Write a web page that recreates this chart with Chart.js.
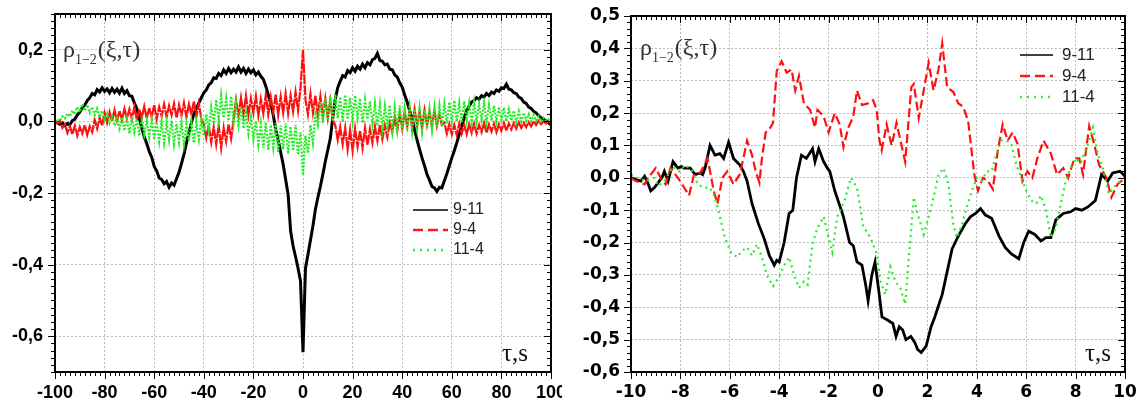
<!DOCTYPE html>
<html>
<head>
<meta charset="utf-8">
<script src="https://cdn.jsdelivr.net/npm/chart.js@4.4.1/dist/chart.umd.min.js"></script>
<style>
  html, body { margin: 0; padding: 0; background: #fff; }
  #wrap { position: relative; width: 1144px; height: 406px; overflow: hidden; }
  canvas { position: absolute; top: 0; }
  #left { left: 0; }
  #right { left: 562px; }
</style>
</head>
<body>
<div id="wrap">
  <canvas id="left" width="562" height="406"></canvas>
  <canvas id="right" width="582" height="406"></canvas>
</div>
<script>
// ---------- left panel : tau = -100 ... 100 s, one sample per second ----------
const tauLeft = Array.from({ length: 201 }, (_, i) => i - 100);

const left911 = [
  0.000, -0.004, -0.008, -0.004, -0.012, -0.006, -0.009, 0.002, 0.006, 0.018,
  0.026, 0.038, 0.046, 0.058, 0.066, 0.078, 0.074, 0.089, 0.082, 0.094,
  0.084, 0.091, 0.080, 0.092, 0.081, 0.090, 0.079, 0.093, 0.078, 0.086,
  0.072, 0.070, 0.052, 0.036, 0.008, -0.018, -0.044, -0.062, -0.084, -0.100,
  -0.126, -0.138, -0.158, -0.162, -0.174, -0.168, -0.184, -0.172, -0.178, -0.160,
  -0.142, -0.118, -0.092, -0.060, -0.032, -0.004, 0.022, 0.036, 0.052, 0.066,
  0.080, 0.088, 0.102, 0.108, 0.122, 0.120, 0.134, 0.128, 0.144, 0.134,
  0.148, 0.136, 0.146, 0.138, 0.152, 0.138, 0.148, 0.134, 0.146, 0.136,
  0.144, 0.130, 0.138, 0.126, 0.118, 0.098, 0.074, 0.050, 0.018, -0.022,
  -0.052, -0.086, -0.120, -0.162, -0.204, -0.306, -0.348, -0.378, -0.410, -0.446,
  -0.645,
  -0.410, -0.372, -0.332, -0.292, -0.246, -0.212, -0.182, -0.148, -0.112, -0.080,
  -0.048, 0.010, 0.062, 0.094, 0.112, 0.128, 0.124, 0.142, 0.136, 0.150,
  0.140, 0.154, 0.146, 0.160, 0.150, 0.164, 0.158, 0.172, 0.176, 0.190,
  0.170, 0.168, 0.158, 0.160, 0.146, 0.144, 0.130, 0.124, 0.108, 0.096,
  0.074, 0.054, 0.030, 0.008, -0.024, -0.052, -0.078, -0.102, -0.124, -0.148,
  -0.164, -0.182, -0.186, -0.196, -0.184, -0.186, -0.166, -0.146, -0.124, -0.102,
  -0.082, -0.060, -0.036, -0.012, 0.010, 0.030, 0.042, 0.054, 0.058, 0.066,
  0.062, 0.072, 0.068, 0.078, 0.072, 0.082, 0.078, 0.088, 0.084, 0.094,
  0.092, 0.104, 0.090, 0.088, 0.080, 0.078, 0.068, 0.064, 0.054, 0.050,
  0.040, 0.036, 0.028, 0.024, 0.016, 0.010, 0.006, 0.002, -0.004, -0.010
];

const left94 = [
  0.000, -0.006, 0.002, -0.018, -0.008, -0.032, -0.014, -0.036, -0.012, -0.040,
  -0.016, -0.034, -0.010, -0.038, -0.014, -0.030, 0.004, -0.020, 0.010, -0.012,
  0.024, -0.004, 0.026, 0.000, 0.032, 0.002, 0.030, 0.004, 0.036, 0.008,
  0.034, 0.006, 0.040, 0.004, 0.034, 0.010, 0.042, 0.008, 0.038, 0.012,
  0.046, 0.006, 0.040, 0.014, 0.048, 0.012, 0.044, 0.018, 0.050, 0.010,
  0.046, 0.016, 0.052, 0.012, 0.048, 0.020, 0.056, 0.014, 0.050, 0.008,
  -0.010, -0.046, -0.012, -0.058, -0.016, -0.064, -0.010, -0.074, -0.018, -0.056,
  -0.008, -0.048, 0.004, 0.060, 0.016, 0.066, 0.020, 0.072, 0.018, 0.064,
  0.024, 0.070, 0.016, 0.062, 0.022, 0.074, 0.020, 0.068, 0.026, 0.076,
  0.018, 0.070, 0.024, 0.078, 0.022, 0.072, 0.028, 0.082, 0.030, 0.094,
  0.200,
  0.060, 0.020, 0.078, 0.024, 0.072, 0.018, 0.070, 0.014, 0.064, 0.010,
  0.058, 0.004, -0.010, -0.052, -0.016, -0.064, -0.018, -0.078, -0.024, -0.082,
  -0.020, -0.070, -0.026, -0.074, -0.018, -0.066, -0.022, -0.060, -0.014, -0.054,
  -0.010, -0.050, -0.012, -0.044, -0.004, -0.030, 0.010, -0.026, 0.022, -0.020,
  0.026, -0.014, 0.030, -0.018, 0.034, -0.012, 0.028, -0.016, 0.032, -0.010,
  0.026, -0.014, 0.030, -0.012, 0.020, -0.010, -0.004, -0.034, -0.008, -0.036,
  -0.010, -0.038, -0.006, -0.034, -0.010, -0.036, -0.008, -0.032, -0.006, -0.034,
  -0.010, -0.030, -0.004, -0.032, -0.008, -0.028, -0.006, -0.030, -0.008, -0.026,
  -0.004, -0.026, -0.006, -0.022, -0.004, -0.020, -0.002, -0.018, -0.004, -0.016,
  -0.002, -0.014, 0.000, -0.010, 0.002, -0.008, 0.000, -0.006, 0.000, -0.002
];

const left114 = [
  0.000, 0.006, 0.002, 0.014, 0.008, 0.022, 0.014, 0.030, 0.020, 0.040,
  0.026, 0.048, 0.030, 0.046, 0.024, 0.040, 0.018, 0.036, 0.012, 0.030,
  0.004, 0.022, -0.004, 0.014, -0.012, 0.010, -0.020, 0.012, -0.026, 0.008,
  -0.034, 0.014, -0.030, 0.006, -0.040, 0.010, -0.036, 0.002, -0.044, 0.004,
  -0.050, -0.002, -0.056, 0.000, -0.060, -0.004, -0.052, 0.002, -0.062, -0.006,
  -0.058, -0.002, -0.064, -0.008, -0.054, 0.000, -0.060, -0.004, -0.050, 0.006,
  -0.040, 0.020, -0.024, 0.040, -0.006, 0.060, 0.004, 0.072, 0.010, 0.064,
  0.002, 0.070, -0.004, 0.052, -0.010, 0.040, -0.020, 0.024, -0.034, 0.012,
  -0.050, 0.000, -0.064, -0.006, -0.074, -0.002, -0.080, -0.010, -0.072, -0.004,
  -0.086, -0.012, -0.078, -0.006, -0.090, -0.014, -0.082, -0.010, -0.094, -0.030,
  -0.150,
  -0.040, -0.088, -0.010, -0.060, 0.020, -0.010, 0.052, -0.004, 0.064, 0.004,
  0.070, 0.000, 0.076, 0.008, 0.068, -0.002, 0.074, 0.006, 0.066, 0.002,
  0.072, 0.010, 0.064, -0.004, 0.060, 0.006, 0.056, -0.008, 0.050, -0.012,
  0.048, -0.020, 0.042, -0.016, 0.046, -0.026, 0.040, -0.022, 0.044, -0.030,
  0.036, -0.024, 0.040, -0.028, 0.034, -0.020, 0.038, -0.030, 0.032, -0.018,
  0.036, -0.024, 0.040, -0.016, 0.044, -0.012, 0.048, -0.006, 0.054, -0.002,
  0.058, 0.000, 0.052, -0.004, 0.056, 0.002, 0.050, -0.006, 0.054, 0.000,
  0.048, 0.004, 0.052, -0.002, 0.046, 0.002, 0.044, 0.000, 0.040, 0.004,
  0.038, 0.000, 0.034, 0.002, 0.030, -0.002, 0.028, 0.000, 0.024, 0.002,
  0.020, 0.000, 0.018, 0.002, 0.014, 0.000, 0.010, 0.002, 0.006, 0.000
];

const xTicksLeft = [-100, -80, -60, -40, -20, 0, 20, 40, 60, 80, 100];
const yTicksLeft = [-0.6, -0.4, -0.2, 0, 0.2];

// ---------- right panel : tau = -10 ... 10 s ----------
const tauR911 = [
  -10, -9.8, -9.6, -9.45, -9.3, -9.2, -9.05, -8.9, -8.75, -8.65, -8.5, -8.3, -8.1, -7.95, -7.85,
  -7.6, -7.4, -7.2, -7.1, -7.0, -6.8, -6.6, -6.4, -6.25, -6.05, -5.85, -5.6, -5.45, -5.3, -5.1,
  -4.85, -4.6, -4.4, -4.2, -4.1, -4.0, -3.8, -3.6, -3.45, -3.3, -3.1, -2.9, -2.65, -2.55, -2.4,
  -2.2, -2.05, -1.95, -1.75, -1.4, -1.15, -1.0, -0.85, -0.65, -0.5, -0.4, -0.25, -0.12, 0.05, 0.16,
  0.4, 0.6, 0.73, 0.86, 1.0, 1.13, 1.33, 1.5, 1.6, 1.75, 1.95, 2.15, 2.3, 2.6, 2.8,
  3.0, 3.25, 3.55, 3.75, 3.95, 4.15, 4.35, 4.6, 4.9, 5.15, 5.4, 5.7, 5.9, 6.1, 6.35,
  6.6, 6.8, 7.0, 7.2, 7.5, 7.8, 8.0, 8.25, 8.5, 8.8, 9.05, 9.3, 9.5, 9.8, 10
];
const r911 = [
  0.0, -0.005, -0.01, 0.005, -0.02, -0.04, -0.03, -0.015, 0.0, 0.02, -0.01, 0.05, 0.03, 0.035, 0.03,
  0.03, 0.01, 0.015, 0.01, 0.03, 0.1, 0.07, 0.075, 0.06, 0.11, 0.06, 0.04, 0.02, -0.01, -0.08,
  -0.14, -0.19, -0.24, -0.27, -0.255, -0.26, -0.2, -0.11, -0.1, 0.0, 0.07, 0.06, 0.09, 0.05, 0.09,
  0.05, 0.03, 0.02, -0.04, -0.12, -0.2, -0.21, -0.26, -0.27, -0.33, -0.38, -0.3, -0.26, -0.36, -0.43,
  -0.44, -0.45, -0.49, -0.46, -0.47, -0.5, -0.49, -0.51, -0.53, -0.54, -0.52, -0.46, -0.43, -0.36, -0.29,
  -0.22, -0.18, -0.14, -0.12, -0.11, -0.095, -0.115, -0.125, -0.18, -0.215, -0.235, -0.25, -0.2, -0.165, -0.175,
  -0.195, -0.185, -0.185, -0.13, -0.11, -0.105, -0.095, -0.1, -0.09, -0.07, 0.01, -0.01, 0.015, 0.02, 0.005
];

const tauR94 = [
  -10, -9.8, -9.6, -9.45, -9.25, -9.0, -8.8, -8.6, -8.4, -8.1, -7.85, -7.65, -7.45, -7.2, -6.9,
  -6.65, -6.5, -6.3, -6.1, -5.85, -5.6, -5.45, -5.3, -5.1, -4.95, -4.8, -4.7, -4.55, -4.4, -4.25,
  -4.1, -3.9, -3.7, -3.5, -3.35, -3.2, -3.0, -2.75, -2.55, -2.45, -2.2, -2.0, -1.75, -1.55, -1.4,
  -1.2, -1.0, -0.85, -0.65, -0.4, -0.2, -0.05, 0.05, 0.15, 0.35, 0.55, 0.75, 1.1, 1.35, 1.45,
  1.65, 1.85, 2.05, 2.25, 2.45, 2.6, 2.8, 3.05, 3.25, 3.45, 3.65, 3.9, 4.05, 4.25, 4.45,
  4.65, 4.85, 5.05, 5.25, 5.45, 5.65, 5.85, 6.05, 6.25, 6.45, 6.7, 7.0, 7.25, 7.5, 7.7,
  7.95, 8.15, 8.3, 8.55, 8.75, 8.95, 9.25, 9.45, 9.7, 10
];
const r94 = [
  0.0, -0.01, -0.015, -0.02, 0.005, 0.03, 0.0, -0.02, 0.03, 0.0, -0.03, -0.055, 0.01, 0.015, 0.06,
  -0.04, -0.08, 0.0, 0.02, -0.02, 0.01, 0.06, 0.115, 0.07, 0.02, -0.015, 0.06, 0.14, 0.15, 0.17,
  0.33, 0.36, 0.325, 0.335, 0.27, 0.315, 0.23, 0.21, 0.155, 0.21, 0.19, 0.14, 0.2, 0.165, 0.095,
  0.155, 0.19, 0.27, 0.225, 0.23, 0.24, 0.21, 0.12, 0.085, 0.165, 0.1, 0.17, 0.05, 0.28, 0.29,
  0.185, 0.27, 0.355, 0.27, 0.335, 0.415, 0.28, 0.265, 0.23, 0.22, 0.175, 0.01, -0.04, 0.0, -0.01,
  -0.035, 0.085, 0.165, 0.115, 0.14, 0.105, -0.01, 0.02, 0.0, 0.06, 0.115, 0.075, 0.01, 0.03, 0.0,
  0.06, 0.06, 0.01, 0.16, 0.105, 0.04, 0.0, -0.06, -0.02, 0.0
];

const tauR114 = [
  -10, -9.75, -9.4, -9.05, -8.9, -8.65, -8.3, -8.05, -7.8, -7.5, -7.3, -7.05, -6.8, -6.6, -6.4,
  -6.2, -5.95, -5.7, -5.5, -5.3, -5.1, -4.9, -4.7, -4.5, -4.25, -4.0, -3.8, -3.6, -3.4, -3.2,
  -3.0, -2.85, -2.65, -2.45, -2.2, -2.0, -1.85, -1.65, -1.35, -1.1, -0.85, -0.6, -0.3, -0.05, 0.1,
  0.3, 0.5, 0.7, 0.9, 1.1, 1.25, 1.45, 1.6, 1.85, 2.05, 2.25, 2.45, 2.65, 2.85, 3.05,
  3.2, 3.4, 3.6, 3.8, 4.0, 4.2, 4.4, 4.6, 4.8, 5.0, 5.2, 5.4, 5.6, 5.8, 6.0,
  6.2, 6.4, 6.6, 6.8, 7.0, 7.2, 7.4, 7.6, 7.8, 8.0, 8.2, 8.5, 8.7, 8.9, 9.1,
  9.35, 9.65, 10
];
const r114 = [
  0.01, 0.0, -0.01, 0.0, -0.025, -0.01, 0.035, 0.02, 0.04, 0.02, -0.02, -0.03, -0.03, -0.06, -0.12,
  -0.185, -0.23, -0.245, -0.225, -0.215, -0.24, -0.205, -0.245, -0.3, -0.335, -0.305, -0.27, -0.245, -0.3, -0.34,
  -0.32, -0.33, -0.205, -0.155, -0.12, -0.185, -0.23, -0.12, -0.07, 0.0, -0.03, -0.15, -0.185, -0.235, -0.32,
  -0.36, -0.275, -0.32, -0.34, -0.39, -0.245, -0.06, -0.11, -0.175, -0.12, -0.06, 0.01, 0.03, -0.02, -0.145,
  -0.185, -0.145, -0.09, -0.04, 0.0, -0.01, 0.02, 0.02, 0.075, 0.115, 0.115, 0.105, 0.04, 0.0, -0.04,
  -0.07, -0.08, -0.055, -0.1, -0.185, -0.155, -0.08, -0.01, 0.03, 0.06, 0.045, 0.105, 0.155, 0.075, 0.03,
  -0.05, -0.02, 0.0
];

const xTicksRight = [-10, -8, -6, -4, -2, 0, 2, 4, 6, 8, 10];
const yTicksRight = [-0.6, -0.5, -0.4, -0.3, -0.2, -0.1, 0, 0.1, 0.2, 0.3, 0.4, 0.5];

const legendNames = ['9-11', '9-4', '11-4'];

// ---------- helpers ----------
function pts(xs, ys) {
  return xs.map((t, i) => ({ x: t, y: ys[i] }));
}
function comma(v) {
  if (Math.abs(v) < 1e-9) return '0,0';
  return v.toFixed(1).replace('.', ',');
}

// frame, tick marks, axis titles and legend, drawn over the chart
const framePlugin = {
  id: 'frame',
  afterDraw(chart, args, o) {
    const { ctx, chartArea: a } = chart;
    const sx = chart.scales.x, sy = chart.scales.y;
    ctx.save();
    ctx.strokeStyle = '#000';
    ctx.lineWidth = 1;
    ctx.beginPath();
    const nx = Math.round((sx.max - sx.min) / o.xMinor);
    for (let i = 0; i <= nx; i++) {
      const v = sx.min + i * o.xMinor;
      const big = Math.abs(v / o.xMajor - Math.round(v / o.xMajor)) < 1e-6;
      const p = Math.round(sx.getPixelForValue(v)) + 0.5;
      const len = big ? 7 : 4;
      ctx.moveTo(p, a.bottom); ctx.lineTo(p, a.bottom + len);
      ctx.moveTo(p, a.top); ctx.lineTo(p, a.top + len);
    }
    const ny = Math.round((sy.max - sy.min) / o.yMinor);
    for (let i = 0; i <= ny; i++) {
      const v = sy.min + i * o.yMinor;
      const big = Math.abs(v / o.yMajor - Math.round(v / o.yMajor)) < 1e-6;
      const p = Math.round(sy.getPixelForValue(v)) + 0.5;
      const len = big ? 7 : 4;
      ctx.moveTo(a.left, p); ctx.lineTo(a.left - len, p);
      ctx.moveTo(a.right, p); ctx.lineTo(a.right - len, p);
    }
    ctx.stroke();

    ctx.lineWidth = 2;
    ctx.strokeRect(a.left, a.top, a.right - a.left, a.bottom - a.top);

    // rho_{1-2}(xi,tau)
    ctx.fillStyle = '#333';
    ctx.textAlign = 'left';
    ctx.textBaseline = 'alphabetic';
    let tx = o.rho[0], ty = o.rho[1];
    ctx.font = '24px "Liberation Serif"';
    ctx.fillText('ρ', tx, ty);
    tx += ctx.measureText('ρ').width;
    ctx.font = '14px "Liberation Serif"';
    ctx.fillText('1−2', tx, ty + 7);
    tx += ctx.measureText('1−2').width + 1;
    ctx.font = '24px "Liberation Serif"';
    ctx.fillText('(ξ,τ)', tx, ty);

    // tau,s
    ctx.fillStyle = '#111';
    ctx.font = '25px "Liberation Serif"';
    ctx.fillText('τ,s', o.tau[0], o.tau[1]);

    // legend
    const styles = [
      { c: '#000', w: 1.5, d: [] },
      { c: '#ff1a1a', w: 2.5, d: [10, 5] },
      { c: '#33ee33', w: 2.5, d: [2, 5] }
    ];
    ctx.font = o.legFont;
    ctx.textBaseline = 'middle';
    legendNames.forEach((name, i) => {
      const y = o.leg.y + i * o.leg.dy;
      ctx.beginPath();
      ctx.strokeStyle = styles[i].c;
      ctx.lineWidth = styles[i].w;
      ctx.setLineDash(styles[i].d);
      ctx.moveTo(o.leg.x, y);
      ctx.lineTo(o.leg.x + o.leg.len, y);
      ctx.stroke();
      ctx.setLineDash([]);
      ctx.fillStyle = '#222';
      ctx.fillText(name, o.leg.x + o.leg.len + o.leg.gap, y);
    });
    ctx.restore();
  }
};

function makeChart(id, cfg) {
  const tickFont = cfg.tickFont;
  new Chart(document.getElementById(id), {
    type: 'line',
    data: { datasets: cfg.datasets },
    options: {
      responsive: false,
      animation: false,
      devicePixelRatio: 1,
      layout: { padding: cfg.padding },
      elements: { point: { radius: 0 }, line: { tension: 0 } },
      plugins: {
        legend: { display: false },
        tooltip: { enabled: false },
        frame: cfg.frame
      },
      scales: {
        x: {
          type: 'linear',
          min: cfg.xMin, max: cfg.xMax,
          afterBuildTicks: s => { s.ticks = cfg.xTicks.map(v => ({ value: v })); },
          afterFit: s => { s.height = cfg.xHeight; s.paddingLeft = 0; s.paddingRight = 0; },
          grid: { color: '#bdbdbd', lineWidth: 1, drawTicks: false },
          border: { display: false, dash: [2, 2] },
          ticks: {
            autoSkip: false, maxRotation: 0, padding: cfg.xPad,
            color: '#000', font: tickFont,
            callback: v => String(v)
          }
        },
        y: {
          type: 'linear',
          min: cfg.yMin, max: cfg.yMax,
          afterBuildTicks: s => { s.ticks = cfg.yTicks.map(v => ({ value: v })); },
          afterFit: s => { s.width = cfg.yWidth; s.paddingTop = 0; s.paddingBottom = 0; },
          grid: { color: '#bdbdbd', lineWidth: 1, drawTicks: false },
          border: { display: false, dash: [2, 2] },
          ticks: {
            autoSkip: false, padding: cfg.yPad,
            color: '#000', font: tickFont,
            callback: v => comma(v)
          }
        }
      }
    },
    plugins: [framePlugin]
  });
}

makeChart('left', {
  padding: { left: 0, right: 11, top: 14, bottom: 0 },
  xMin: -100, xMax: 100, yMin: -0.7, yMax: 0.3,
  xTicks: xTicksLeft, yTicks: yTicksLeft,
  xHeight: 34, yWidth: 55, xPad: 10, yPad: 12,
  tickFont: { family: 'Liberation Sans', weight: 'bold', size: 18 },
  frame: {
    xMinor: 2, xMajor: 20, yMinor: 0.02, yMajor: 0.2,
    rho: [63, 57], tau: [502, 361],
    legFont: '16px "Liberation Sans"',
    leg: { x: 413, y: 210, dy: 20, len: 35, gap: 5 }
  },
  datasets: [
    { label: legendNames[2], data: pts(tauLeft, left114), borderColor: '#22ee22', borderWidth: 2.2, borderDash: [2, 1.5], order: 0 },
    { label: legendNames[1], data: pts(tauLeft, left94), borderColor: '#ff1010', borderWidth: 2.2, borderDash: [10, 1], order: 1 },
    { label: legendNames[0], data: pts(tauLeft, left911), borderColor: '#000', borderWidth: 3, order: 2 }
  ]
});

makeChart('right', {
  padding: { left: 0, right: 19, top: 16, bottom: 0 },
  xMin: -10, xMax: 10, yMin: -0.6, yMax: 0.5,
  xTicks: xTicksRight, yTicks: yTicksRight,
  xHeight: 34, yWidth: 69, xPad: 10, yPad: 11,
  tickFont: { family: 'DejaVu Sans', weight: 'bold', size: 17 },
  frame: {
    xMinor: 0.2, xMajor: 2, yMinor: 0.02, yMajor: 0.1,
    rho: [78, 55], tau: [523, 361],
    legFont: '17px "Liberation Sans"',
    leg: { x: 458, y: 55, dy: 21, len: 33, gap: 9 }
  },
  datasets: [
    { label: legendNames[2], data: pts(tauR114, r114), borderColor: '#22ee22', borderWidth: 2.2, borderDash: [2, 4], order: 0 },
    { label: legendNames[1], data: pts(tauR94, r94), borderColor: '#ff1010', borderWidth: 2.2, borderDash: [9, 4], order: 1 },
    { label: legendNames[0], data: pts(tauR911, r911), borderColor: '#000', borderWidth: 2.8, order: 2 }
  ]
});
</script>
</body>
</html>
